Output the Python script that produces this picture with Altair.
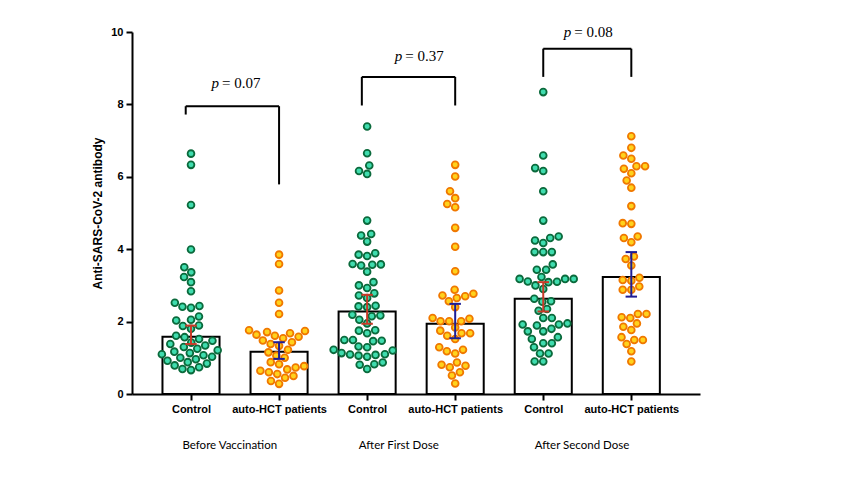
import altair as alt
import pandas as pd
import numpy as np

# ---------------- data ----------------
positions = [1, 2, 3, 4, 5, 6]
cat_labels = ["Control", "auto-HCT patients", "Control", "auto-HCT patients", "Control", "auto-HCT patients"]
kinds = ["Control", "auto-HCT", "Control", "auto-HCT", "Control", "auto-HCT"]
bar_heights = [1.58, 1.17, 2.28, 1.94, 2.63, 3.23]
err_low = [1.38, 0.97, 1.94, 1.54, 2.28, 2.69]
err_high = [1.89, 1.43, 2.74, 2.49, 3.09, 3.92]

c1_vals = [6.64, 6.33, 5.22, 3.99, 3.50, 3.36, 3.23, 3.09, 2.84, 2.52, 2.43, 2.41, 2.38, 2.14,
           2.05, 2.03, 1.89, 1.88, 1.80, 1.61, 1.57,
           1.52, 1.47, 1.42, 1.38, 1.34, 1.30, 1.25, 1.21, 1.17, 1.13, 1.10, 1.07,
           1.03, 1.00, 0.96, 0.92, 0.88, 0.84, 0.79, 0.74, 0.69, 0.66]
a1_vals = [3.85, 3.59, 2.86, 2.52, 2.21,
           1.76, 1.74, 1.71, 1.68, 1.64, 1.61, 1.58, 1.54,
           1.48, 1.43, 1.38, 1.33, 1.22, 1.15, 1.06, 1.00,
           0.88, 0.82, 0.77, 0.73, 0.68, 0.64, 0.60, 0.55, 0.50, 0.45, 0.36, 0.28]
c2_vals = [7.39, 6.65, 6.31, 6.16, 6.08, 4.79, 4.42, 4.38, 4.21, 3.89, 3.85, 3.81, 3.59, 3.58,
           3.57, 3.55, 3.38, 3.09, 3.00, 2.93, 2.78, 2.72, 2.65, 2.44, 2.42, 2.40, 2.19, 2.17,
           2.15, 2.05, 1.95, 1.76, 1.75, 1.68, 1.49, 1.49, 1.47, 1.46, 1.31, 1.29, 1.22, 1.20,
           1.13, 1.10, 1.09, 1.08, 1.06, 1.03, 0.87, 0.82, 0.81, 0.69]
a2_vals = [6.33, 6.01, 5.60, 5.25, 5.16, 5.41, 4.59, 4.07, 3.39, 2.70, 2.88, 2.65, 2.56, 2.72,
           2.77, 2.40, 2.01, 2.01, 2.10, 2.08, 2.01, 1.68, 1.68, 1.75, 1.84, 1.61, 1.52, 1.22,
           1.29, 1.12, 1.18, 0.74, 0.81, 0.87, 0.78, 0.51, 0.60, 0.29]
c3_vals = [8.34, 6.59, 6.16, 6.24, 5.60, 4.79, 4.24, 4.17, 4.31, 4.35, 3.92, 3.92, 3.92, 3.58,
           3.43, 3.43, 3.23, 3.18, 3.18, 3.18, 3.09, 3.10, 3.11, 3.00, 2.90, 2.63, 2.56, 2.55,
           2.35, 2.30, 2.10, 2.10, 1.95, 1.89, 1.92, 1.92, 1.80, 1.73, 1.73, 1.57, 1.52, 1.40,
           1.40, 1.29, 1.12, 1.12, 0.90, 0.90]
a3_vals = [7.12, 6.80, 6.59, 6.50, 6.22, 6.29, 6.29, 6.10, 5.90, 5.70, 5.19, 4.70, 4.72, 4.31,
           4.35, 4.19, 3.73, 3.80, 3.55, 3.21, 2.97, 3.13, 2.88, 2.88, 3.15, 2.21, 1.95, 2.10,
           1.86, 2.21, 2.12, 1.77, 1.49, 1.57, 1.38, 1.49, 1.18, 0.90]
group_vals = [c1_vals, a1_vals, c2_vals, a2_vals, c3_vals, a3_vals]

stage_labels = ["Before Vaccination", "After First Dose", "After Second Dose"]
stage_x = [1.44, 3.36, 5.44]

p_texts = ["= 0.07", "= 0.37", "= 0.08"]
p_x = [1.5, 3.58, 5.5]
p_y = [8.45, 9.19, 9.85]

br_left = [0.94, 2.94, 5.0]
br_right = [2.0, 4.0, 6.0]
br_top = [7.95, 8.76, 9.54]
br_left_bottom = [7.72, 7.97, 8.76]
br_right_bottom = [5.79, 7.97, 8.76]

# ---------------- layout ----------------
W, H = 568, 362
XMIN, XMAX = 0.33, 6.78
PX_X = W / (XMAX - XMIN)
PX_Y = H / 10.0
D = 8.6  # point spacing in px
BAR_HALF = 0.324
CAP_HALF = 0.065


def swarm(vals):
    placed = []
    offs = [0.0] * len(vals)
    order = sorted(range(len(vals)), key=lambda i: vals[i])
    for i in order:
        y = vals[i] * PX_Y
        intervals = []
        for px, py in placed:
            dy = abs(py - y)
            if dy < D:
                h = np.sqrt(D * D - dy * dy)
                intervals.append((px - h, px + h))
        cands = [0.0] + [a for a, b in intervals] + [b for a, b in intervals]
        cands.sort(key=lambda c: (abs(c), c))
        x = 0.0
        for c in cands:
            if all(not (a + 1e-6 < c < b - 1e-6) for a, b in intervals):
                x = c
                break
        placed.append((x, y))
        offs[i] = x
    return offs


rows = []
for g, vals in enumerate(group_vals):
    offs = swarm(vals)
    for v, o in zip(vals, offs):
        rows.append({"x": positions[g] + o / PX_X, "y": v, "kind": kinds[g]})
pts = pd.DataFrame(rows)

bars = pd.DataFrame({"pos": positions, "h": bar_heights, "lo": err_low, "hi": err_high, "kind": kinds})
brk = pd.DataFrame({"l": br_left, "r": br_right, "t": br_top, "lb": br_left_bottom, "rb": br_right_bottom})
ptxt = pd.DataFrame({"x": p_x, "y": p_y, "t": p_texts})
stg = pd.DataFrame({"x": stage_x, "t": stage_labels})

label_js = "[" + ",".join(["''"] + ["'" + s + "'" for s in cat_labels]) + "]"

xscale = alt.Scale(domain=[XMIN, XMAX], nice=False, zero=False)
yscale = alt.Scale(domain=[0, 10], nice=False)
xaxis = alt.Axis(values=positions, labelExpr=label_js + "[datum.value]", title=None, grid=False,
                 domainWidth=2, domainColor="black", tickColor="black", tickWidth=2, tickSize=6,
                 labelFont="Liberation Sans", labelFontWeight="bold", labelFontSize=11,
                 labelColor="black", labelPadding=3)
yaxis = alt.Axis(values=[0, 2, 4, 6, 8, 10], title="Anti-SARS-CoV-2 antibody", grid=False,
                 domainWidth=2, domainColor="black", tickColor="black", tickWidth=2, tickSize=6,
                 labelFont="Liberation Sans", labelFontWeight="bold", labelFontSize=11,
                 labelColor="black", labelPadding=3, titleFont="Liberation Sans",
                 titleFontWeight="bold", titleFontSize=12, titleColor="black", titlePadding=6)


def X(f):
    return alt.X(f, type="quantitative", scale=xscale, axis=xaxis)


def Y(f):
    return alt.Y(f, type="quantitative", scale=yscale, axis=yaxis)


kind_fill = alt.Scale(domain=["Control", "auto-HCT"], range=["#3fdcae", "#ffd21c"])
kind_stroke = alt.Scale(domain=["Control", "auto-HCT"], range=["#0b6a3c", "#f07800"])
kind_err = alt.Scale(domain=["Control", "auto-HCT"], range=["#c83a28", "#1e1e96"])

base_b = alt.Chart(bars).transform_calculate(
    l=f"datum.pos - {BAR_HALF}", r=f"datum.pos + {BAR_HALF}",
    cl=f"datum.pos - {CAP_HALF}", cr=f"datum.pos + {CAP_HALF}", z="0")

bar_layer = base_b.mark_rect(fill="white", stroke="black", strokeWidth=2).encode(
    x=X("l"), x2=alt.X2("r"), y=Y("h"), y2=alt.Y2("z:Q"))

pt_layer = alt.Chart(pts).mark_circle(size=46, strokeWidth=1.8, opacity=1).encode(
    x=X("x"), y=Y("y"),
    fill=alt.Fill("kind:N", scale=kind_fill, legend=None),
    stroke=alt.Stroke("kind:N", scale=kind_stroke, legend=None))

err_v = base_b.mark_rule(strokeWidth=2).encode(
    x=X("pos"), y=Y("lo"), y2=alt.Y2("hi"),
    color=alt.Color("kind:N", scale=kind_err, legend=None))
err_lo = base_b.mark_rule(strokeWidth=2).encode(
    x=X("cl"), x2=alt.X2("cr"), y=Y("lo"),
    color=alt.Color("kind:N", scale=kind_err, legend=None))
err_hi = base_b.mark_rule(strokeWidth=2).encode(
    x=X("cl"), x2=alt.X2("cr"), y=Y("hi"),
    color=alt.Color("kind:N", scale=kind_err, legend=None))

br_h = alt.Chart(brk).mark_rule(color="black", strokeWidth=2).encode(x=X("l"), x2=alt.X2("r"), y=Y("t"))
br_lv = alt.Chart(brk).mark_rule(color="black", strokeWidth=2).encode(x=X("l"), y=Y("lb"), y2=alt.Y2("t"))
br_rv = alt.Chart(brk).mark_rule(color="black", strokeWidth=2).encode(x=X("r"), y=Y("rb"), y2=alt.Y2("t"))

p_it = alt.Chart(ptxt).mark_text(text="p", font="Liberation Serif", fontStyle="italic", fontSize=15,
                                 align="right", baseline="alphabetic", dx=-16, color="black").encode(
    x=X("x"), y=Y("y"))
p_rest = alt.Chart(ptxt).mark_text(font="Liberation Serif", fontSize=15, align="left",
                                   baseline="alphabetic", dx=-13, color="black").encode(
    x=X("x"), y=Y("y"), text="t:N")

stg_layer = alt.Chart(stg).mark_text(font="Lato", fontSize=11.5, align="center", baseline="middle",
                                     color="black").encode(x=X("x"), y=alt.value(414), text="t:N")

chart = alt.layer(bar_layer, pt_layer, err_v, err_lo, err_hi, br_h, br_lv, br_rv, p_it, p_rest,
                  stg_layer).properties(
    width=W, height=H,
    autosize=alt.AutoSizeParams(type="none"),
    padding={"left": 124, "top": 24, "right": 140, "bottom": 70},
    background="white",
).configure_view(stroke=None)

chart.save("out.html", embed_options={"renderer": "svg", "actions": False})
